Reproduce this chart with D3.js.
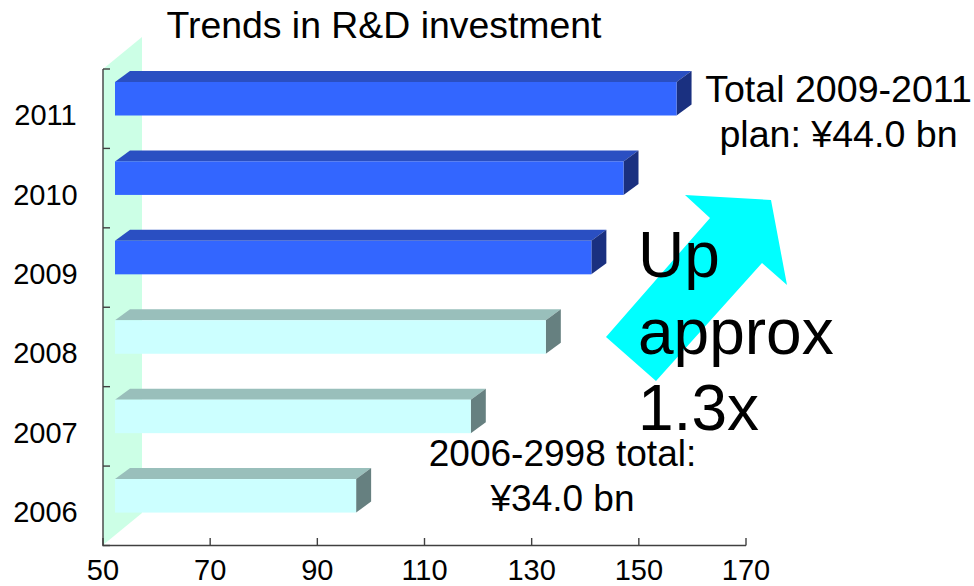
<!DOCTYPE html>
<html><head><meta charset="utf-8">
<script src="https://cdn.jsdelivr.net/npm/d3@7/dist/d3.min.js"></script>
<style>html,body{margin:0;padding:0;background:#fff}svg{display:block}text{font-family:"Liberation Sans",Arial,sans-serif;fill:#000}</style>
</head><body><svg id="c" width="974" height="586"></svg>
<script>
const years = ["2006","2007","2008","2009","2010","2011"];
const values = [95, 116.4, 130.4, 138.9, 144.9, 154.8];
const planned = [false, false, false, true, true, true];
const xTicks = [50,70,90,110,130,150,170];
const title = "Trends in R&D investment";
const noteA = ["Total 2009-2011","plan: ¥44.0 bn"];
const noteB = ["2006-2998 total:","¥34.0 bn"];
const noteC = ["Up","approx","1.3x"];
const arrowShape = [[606,337],[710,218],[685,195],[771,200],[787,285],[762,263],[656,381]];

const svg = d3.select("#c");
const x = d3.scaleLinear().domain([50,170]).range([103,746]);
const y = d3.scaleBand().domain(years).range([545.5,69]);
const dx = 15, dy = 11, wallX = 39, wallY = 32, frontX = 12, frontTop = 13, barH = 33.5;

svg.append("polygon").attr("fill","#ccffe6")
  .attr("points",[[103,69],[103+wallX,69-wallY],[103+wallX,545-wallY],[103,545]].join(" "));

years.forEach((yr,i)=>{
  const x0 = x(50)+frontX, x1 = x(values[i])+frontX, t = y(yr)+frontTop, b = t+barH;
  const c = planned[i] ? {f:"#3366ff",t:"#2a4fc2",s:"#1a3080"} : {f:"#ccffff",t:"#99bfbb",s:"#668080"};
  const g = svg.append("g");
  g.append("polygon").attr("fill",c.t).attr("points",[[x0,t],[x0+dx,t-dy],[x1+dx,t-dy],[x1,t]].join(" "));
  g.append("polygon").attr("fill",c.s).attr("points",[[x1,t],[x1+dx,t-dy],[x1+dx,b-dy],[x1,b]].join(" "));
  g.append("rect").attr("x",x0).attr("y",t).attr("width",x1-x0).attr("height",barH).attr("fill",c.f);
});

const ax = svg.append("g").attr("stroke","#404040").attr("stroke-width",1.4).attr("fill","none");
ax.append("path").attr("d",`M${x(50)},69V545.5H${x(170)}`);
xTicks.forEach(v=>ax.append("line").attr("x1",x(v)).attr("x2",x(v)).attr("y1",538).attr("y2",545.5));
[...years.map(d=>y(d)), 545.5].forEach(v=>ax.append("line").attr("x1",103).attr("x2",110).attr("y1",v).attr("y2",v));

xTicks.forEach(v=>svg.append("text").attr("x",x(v)).attr("y",579.8).attr("text-anchor","middle").attr("font-size",29).text(v));
years.forEach(yr=>svg.append("text").attr("x",45.5).attr("y",y(yr)+y.bandwidth()/2+16.5).attr("text-anchor","middle").attr("font-size",29).text(yr));

svg.append("text").attr("x",384).attr("y",38).attr("text-anchor","middle").attr("font-size",37.4).text(title);

svg.append("polygon").attr("fill","#00ffff").attr("points",arrowShape.join(" "));

noteA.forEach((s,i)=>svg.append("text").attr("x",838.5).attr("y",102+i*45).attr("text-anchor","middle").attr("font-size",37.6).text(s));
noteB.forEach((s,i)=>svg.append("text").attr("x",562.5).attr("y",466+i*45).attr("text-anchor","middle").attr("font-size",37).text(s));
noteC.forEach((s,i)=>svg.append("text").attr("x",638).attr("y",277+i*76.7).attr("font-size",64).text(s));
</script></body></html>
